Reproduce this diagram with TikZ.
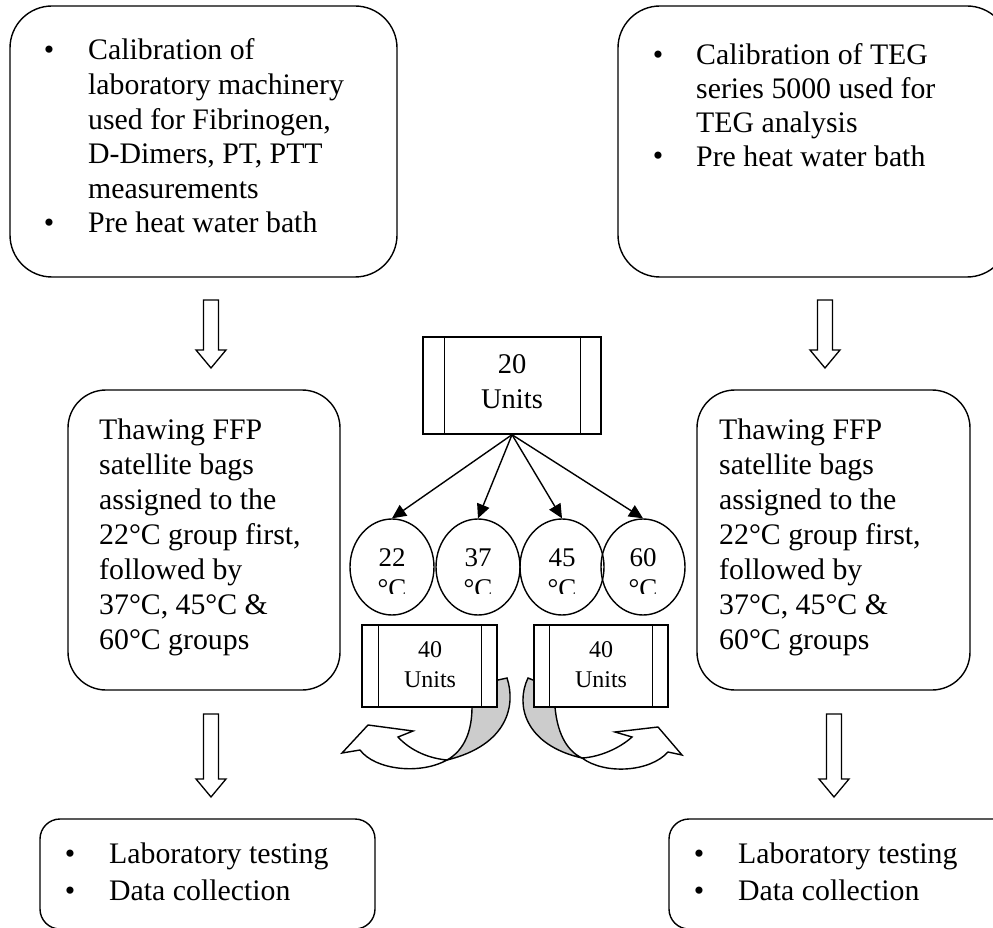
\documentclass[tikz,border=0pt]{standalone}
\usepackage{fontspec}
\setmainfont{Liberation Serif}
\usetikzlibrary{arrows.meta,shapes.geometric}
\newcommand\twoline[2]{\vtop{\hbox to 0pt{\hss#1\hss}\hbox to 0pt{\hss#2\hss}}}
\newcommand\blkarrow[3]{%
  \draw[blk] (#1-7.5,#2) -- (#1+7.5,#2) -- (#1+7.5,#3-18) -- (#1+15,#3-18) -- (#1,#3)
    -- (#1-15,#3-18) -- (#1-7.5,#3-18) -- cycle;}
\begin{document}
\begin{tikzpicture}[x=1pt,y=-1pt,
  bigbox/.style={draw,line width=1.4pt,rounded corners=#1,fill=white,inner sep=0pt},
  unitbox/.style={draw,line width=1.4pt,fill=white,inner sep=0pt},
  circ/.style={draw,ellipse,line width=1.4pt,minimum width=84pt,minimum height=96pt,inner sep=0pt},
  txt/.style={inner sep=0pt,font=\fontsize{29.8}{34.6}\selectfont},
  txtb/.style={inner sep=0pt,font=\fontsize{29.8}{35}\selectfont},
  utxt/.style={inner sep=0pt,font=\fontsize{28.5}{35}\selectfont},
  stxt/.style={inner sep=0pt,font=\fontsize{24}{30}\selectfont},
  ctxt/.style={inner sep=0pt,font=\fontsize{27}{31}\selectfont},
  arr/.style={line width=1.4pt,-{Triangle[length=14pt,width=13pt]}},
  blk/.style={draw,line width=1.3pt,fill=white,line join=miter},
  curv/.style={draw,line width=1.4pt,line join=miter},
]
\clip (0,0) rectangle (993,928);
\fill[white] (0,0) rectangle (993,928);

% ---- top boxes
\node[bigbox=42pt,minimum width=387pt,minimum height=271pt] (calA) at (203.5,141.5) {};
\node[bigbox=42pt,minimum width=391pt,minimum height=271pt] (calB) at (813.5,141.5) {};
\node[txt,anchor=base] (calAb1) at (49,60) {•};
\node[txt,anchor=base] (calAb2) at (49,233) {•};
\node[txt,anchor=base west] (calAt) at (88,60) {\vtop{\hbox{Calibration of}\hbox{laboratory machinery}\hbox{used for Fibrinogen,}\hbox{D-Dimers, PT, PTT}\hbox{measurements}\hbox{Pre heat water bath}}};
\node[txt,anchor=base] (calBb1) at (658,65) {•};
\node[txt,anchor=base] (calBb2) at (658,166) {•};
\node[txt,anchor=base west,font=\fontsize{29.8}{33.7}\selectfont] (calBt) at (696,65) {\vtop{\hbox{Calibration of TEG}\hbox{series 5000 used for}\hbox{TEG analysis}\hbox{Pre heat water bath}}};

% ---- block arrows
\blkarrow{211}{300}{368}
\blkarrow{825}{300}{368}
\blkarrow{211}{714}{797}
\blkarrow{834}{714}{797}

% ---- middle boxes
\node[bigbox=38pt,minimum width=272pt,minimum height=300pt] (thawA) at (204,540) {};
\node[bigbox=38pt,minimum width=273pt,minimum height=300pt] (thawB) at (833.5,540) {};
\node[txtb,anchor=base west] (thawAt) at (99,439) {\vtop{\hbox{Thawing FFP}\hbox{satellite bags}\hbox{assigned to the}\hbox{22°C group first,}\hbox{followed by}\hbox{37°C, 45°C \&}\hbox{60°C groups}}};
\node[txtb,anchor=base west] (thawBt) at (719,439) {\vtop{\hbox{Thawing FFP}\hbox{satellite bags}\hbox{assigned to the}\hbox{22°C group first,}\hbox{followed by}\hbox{37°C, 45°C \&}\hbox{60°C groups}}};

% ---- 20 units
\node[unitbox,minimum width=178pt,minimum height=97pt] (twenty) at (512,385.5) {};
\draw[line width=1.4pt] ([xshift=22pt]twenty.north west) -- ([xshift=22pt]twenty.south west);
\draw[line width=1.4pt] ([xshift=-21pt]twenty.north east) -- ([xshift=-21pt]twenty.south east);
\node[utxt,anchor=base] (twentyt) at (512,373) {\twoline{20}{Units}};

% ---- circles
\node[circ] (c22) at (392,567) {};
\node[circ] (c37) at (478,567) {};
\node[circ] (c45) at (562,567) {};
\node[circ] (c60) at (643,567) {};
\begin{scope}
\clip (340,500) rectangle (700,593);
\node[ctxt,anchor=base] (t22) at (392,566) {\twoline{22}{°C}};
\node[ctxt,anchor=base] (t37) at (478,566) {\twoline{37}{°C}};
\node[ctxt,anchor=base] (t45) at (562,566) {\twoline{45}{°C}};
\node[ctxt,anchor=base] (t60) at (643,566) {\twoline{60}{°C}};
\end{scope}
\draw[arr] (twenty.south) -- (c22.north);
\draw[arr] (twenty.south) -- (c37.north);
\draw[arr] (twenty.south) -- (c45.north);
\draw[arr] (twenty.south) -- (c60.north);

% ---- curved arrows (left)
\draw[curv,fill=black!20] (498,680) -- (507,678) .. controls (516,705) and (508,745) .. (447,760)
  .. controls (465,750) and (472,730) .. (472,707) .. controls (475,695) and (490,685) .. (498,680) -- cycle;
\draw[curv,fill=white] (447,760) .. controls (425,758) and (408,748) .. (398,737)
  -- (413,731) -- (368,725) -- (342,753) -- (360,750)
  .. controls (375,770) and (420,775) .. (447,760) -- cycle;
% ---- curved arrows (right)
\draw[curv,fill=black!20] (533,680) -- (528,678) .. controls (515,705) and (525,745) .. (582,758)
  .. controls (565,750) and (557,730) .. (555,707) .. controls (552,695) and (540,685) .. (533,680) -- cycle;
\draw[curv,fill=white] (582,758) .. controls (600,757) and (620,748) .. (632,737)
  -- (615,732) -- (658,727) -- (682,755) -- (668,752)
  .. controls (650,772) and (605,775) .. (582,758) -- cycle;

% ---- 40 units boxes
\node[unitbox,minimum width=135pt,minimum height=82pt] (fortyA) at (429.5,666) {};
\draw[line width=1.4pt] ([xshift=17pt]fortyA.north west) -- ([xshift=17pt]fortyA.south west);
\draw[line width=1.4pt] ([xshift=-16pt]fortyA.north east) -- ([xshift=-16pt]fortyA.south east);
\node[stxt,anchor=base] (fortyAt) at (430,657) {\twoline{40}{Units}};
\node[unitbox,minimum width=134pt,minimum height=82pt] (fortyB) at (601,666) {};
\draw[line width=1.4pt] ([xshift=16pt]fortyB.north west) -- ([xshift=16pt]fortyB.south west);
\draw[line width=1.4pt] ([xshift=-16pt]fortyB.north east) -- ([xshift=-16pt]fortyB.south east);
\node[stxt,anchor=base] (fortyBt) at (601,657) {\twoline{40}{Units}};

% ---- bottom boxes
\node[bigbox=20pt,minimum width=335pt,minimum height=110pt] (labA) at (207.5,874) {};
\node[bigbox=20pt,minimum width=345pt,minimum height=110pt] (labB) at (841.5,874) {};
\node[txt,anchor=base] (labAb1) at (70,863) {•};
\node[txt,anchor=base] (labAb2) at (70,900) {•};
\node[txt,anchor=base west,font=\fontsize{29.8}{37}\selectfont] (labAt) at (109,863) {\vtop{\hbox{Laboratory testing}\hbox{Data collection}}};
\node[txt,anchor=base] (labBb1) at (699,863) {•};
\node[txt,anchor=base] (labBb2) at (699,900) {•};
\node[txt,anchor=base west,font=\fontsize{29.8}{37}\selectfont] (labBt) at (738,863) {\vtop{\hbox{Laboratory testing}\hbox{Data collection}}};
\end{tikzpicture}
\end{document}
